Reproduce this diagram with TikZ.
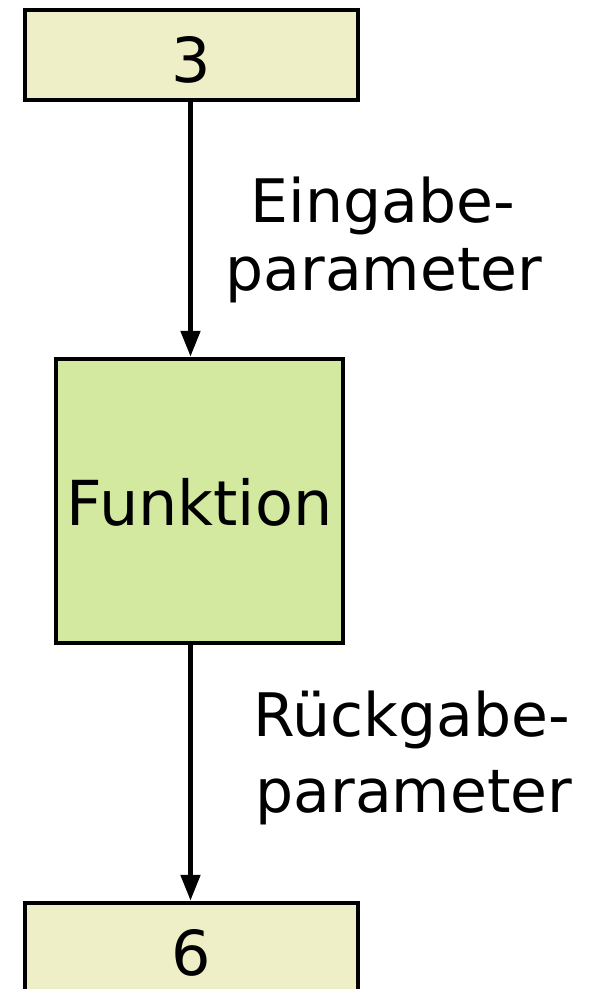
\documentclass[tikz,border=0pt]{standalone}
\usepackage{fontspec}
\setmainfont{DejaVu Sans}
\usetikzlibrary{arrows.meta}
\definecolor{boxyellow}{HTML}{EEEFC7}
\definecolor{boxgreen}{HTML}{D3E9A0}
\tikzset{
  valbox/.style={draw=black, line width=4.5pt, fill=boxyellow, minimum width=333pt, minimum height=90pt, inner sep=0pt},
  funcbox/.style={draw=black, line width=4.5pt, fill=boxgreen, minimum width=287pt, minimum height=284pt, inner sep=0pt},
  big/.style={font=\fontsize{62}{62}\selectfont},
  lbl/.style={anchor=base, font=\fontsize{60}{60}\selectfont, inner sep=0pt},
  flow/.style={line width=5pt, -{Triangle[length=26pt,width=19pt]}}
}
\begin{document}
\begin{tikzpicture}[x=1pt,y=1pt]
\useasboundingbox (0,0) rectangle (594,-989);
\clip (0,0) rectangle (594,-989);
\node[valbox] (in) at (191.5,-55) {};
\node[big, anchor=base] (inv) at (191.5,-82) {3};
\node[funcbox] (f) at (199.5,-501) {};
\node[big, anchor=base] (ft) at (199.5,-525) {Funktion};
\node[valbox] (out) at (191.5,-948) {};
\node[big, anchor=base] (outv) at (191.5,-975) {6};
\draw[flow] (in.south -| 190.5,0) -- (f.north -| 190.5,0);
\draw[flow] (f.south -| 190.5,0) -- (out.north -| 190.5,0);
\node[lbl] (l1a) at (383,-222) {Eingabe-};
\node[lbl] (l1b) at (384,-290) {parameter};
\node[lbl] (l2a) at (412,-736) {Rückgabe-};
\node[lbl] (l2b) at (414,-812) {parameter};
\end{tikzpicture}
\end{document}
